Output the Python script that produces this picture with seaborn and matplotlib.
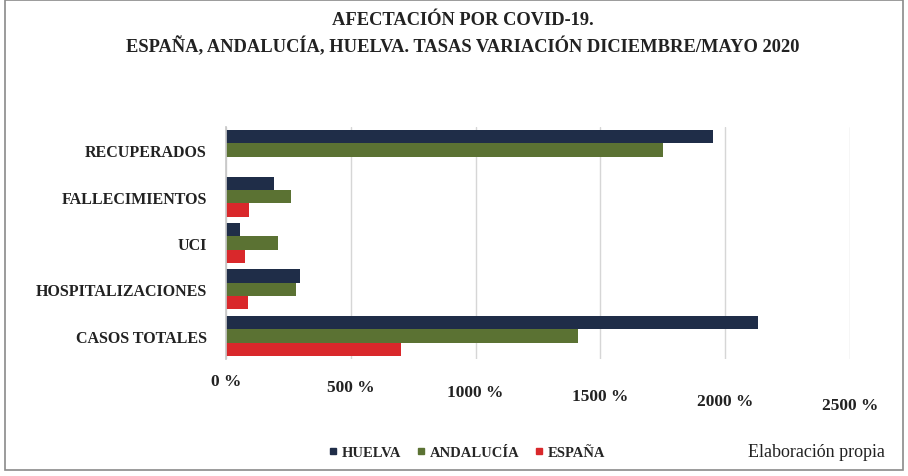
import matplotlib
matplotlib.use("Agg")
import matplotlib.pyplot as plt
import matplotlib.transforms as mtransforms
from matplotlib.patches import Rectangle
from matplotlib.lines import Line2D
import seaborn as sns
import pandas as pd

categories = ["RECUPERADOS", "FALLECIMIENTOS", "UCI", "HOSPITALIZACIONES", "CASOS TOTALES"]
series = ["HUELVA", "ANDALUCÍA", "ESPAÑA"]
huelva = [1950, 190, 55, 295, 2130]
andalucia = [1750, 262, 210, 280, 1410]
espana = [None, 93, 75, 88, 700]
xticks = [0, 500, 1000, 1500, 2000, 2500]
xticklabels = ["0 %", "500 %", "1000 %", "1500 %", "2000 %", "2500 %"]
colors = ["#1f2d48", "#5b7233", "#d9282b"]

rows = []
for s, vals in zip(series, [huelva, andalucia, espana]):
    for c, v in zip(categories, vals):
        if v is not None:
            rows.append({"cat": c, "serie": s, "val": v})
df = pd.DataFrame(rows)

sns.set_theme(style="white")
plt.rcParams["font.family"] = ["Liberation Serif", "DejaVu Serif"]

fig = plt.figure(figsize=(9.08, 4.77), dpi=100)
ax = fig.add_axes([0.249, 0.245, 0.687, 0.487])

sns.barplot(data=df, y="cat", x="val", hue="serie", order=categories,
            hue_order=series, palette=colors, orient="h", width=0.86,
            ax=ax, legend=False, saturation=1, linewidth=0)

ax.set_xlim(0, 2500)
ax.set_xticks(xticks)
ax.set_xticklabels(xticklabels, fontsize=12.5, fontweight="bold", color="#222222")
ax.set_xlabel("")
ax.set_ylabel("")
ax.tick_params(axis="y", labelsize=11.5, pad=14, length=0)
for lab in ax.get_yticklabels():
    lab.set_fontweight("bold")
    lab.set_color("#222222")
ax.tick_params(axis="x", length=0, pad=10)
offsets = [0, -6, -11, -15, -20, -24]
for lab, off in zip(ax.get_xticklabels(), offsets):
    lab.set_transform(lab.get_transform() + mtransforms.ScaledTranslation(0, off / 100, fig.dpi_scale_trans))

ax.grid(axis="x", color="#d6d6d6", linewidth=1)
ax.set_axisbelow(True)
for sp in ["top", "right", "bottom"]:
    ax.spines[sp].set_visible(False)
ax.spines["left"].set_color("#c8c8c8")

fig.text(0.51, 0.956, "AFECTACIÓN POR COVID-19.", ha="center", va="center",
         fontsize=13.3, fontweight="bold", color="#222222")
fig.text(0.51, 0.903, "ESPAÑA, ANDALUCÍA, HUELVA. TASAS VARIACIÓN DICIEMBRE/MAYO 2020",
         ha="center", va="center", fontsize=13.3, fontweight="bold", color="#222222")

handles = [Line2D([0], [0], marker="s", linestyle="none", markersize=5,
                  markerfacecolor=c, markeredgecolor=c) for c in colors]
fig.legend(handles, series, loc="center", bbox_to_anchor=(0.514, 0.05), ncol=3,
           frameon=False, handlelength=0.7, handletextpad=0.25, columnspacing=1.0,
           prop={"weight": "bold", "size": 10.5})
fig.text(0.975, 0.052, "Elaboración propia", ha="right", va="center",
         fontsize=13, color="#222222")

fig.add_artist(Rectangle((0.006, 0.012), 0.988, 0.985, transform=fig.transFigure,
                         fill=False, edgecolor="#8a8a8a", linewidth=1.2))

fig.savefig("out.png", dpi=100)
